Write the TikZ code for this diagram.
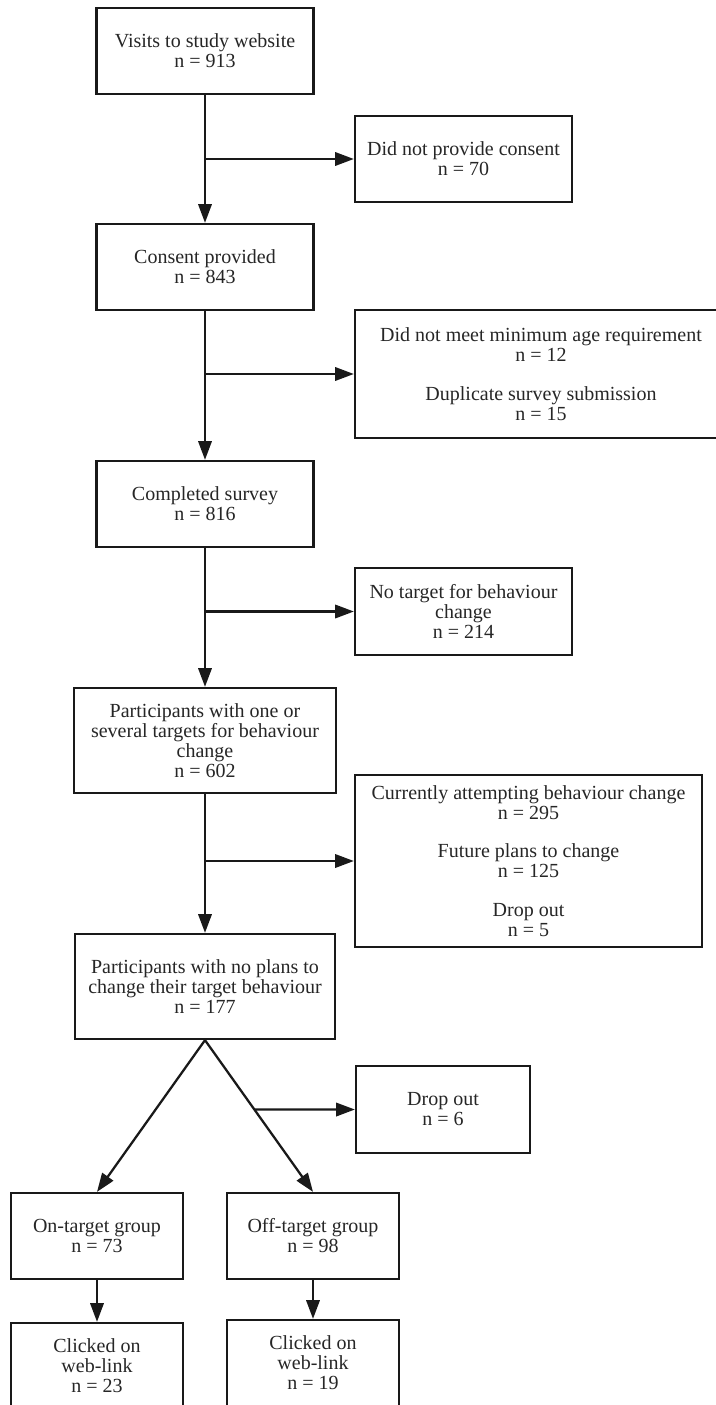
\documentclass[tikz,border=0pt]{standalone}
\usepackage{fontspec}
\setmainfont{Liberation Serif}
\usetikzlibrary{arrows.meta,calc}
\begin{document}
\begin{tikzpicture}[x=0.75pt,y=-0.75pt,
  box/.style={draw=black!90, line width=1.7pt, align=center, inner sep=0pt,
    font=\fontsize{15}{15}\selectfont, text=black!85},
  wh/.style 2 args={minimum width=#1*0.75pt, minimum height=#2*0.75pt},
  arr/.style={draw=black!90, line width=1.7pt, -{Triangle[length=14pt,width=10pt]}}]
\useasboundingbox (0,0) rectangle (715,1405);
% main column
\node[box, wh={217}{86}] (b1) at (205,51) {Visits to study website\\n = 913};
\node[box, wh={217}{86}] (b2) at (205,267) {Consent provided\\n = 843};
\node[box, wh={217}{86}] (b3) at (205,504) {Completed survey\\n = 816};
\node[box, wh={262}{105}] (b4) at (205,740.5) {Participants with one or\\several targets for behaviour\\change\\n = 602};
\node[box, wh={260}{105}] (b5) at (205,986.5) {Participants with no plans to\\change their target behaviour\\n = 177};
% side boxes
\node[box, wh={217}{86}] (s1) at (463.5,159) {Did not provide consent\\n = 70};
\node[box, wh={372}{128}] (s2) at (541,374) {Did not meet minimum age requirement\\n = 12\\[14pt]Duplicate survey submission\\n = 15};
\node[box, wh={217}{87}] (s3) at (463.5,611.5) {No target for behaviour\\change\\n = 214};
\node[box, wh={347}{172}] (s4) at (528.5,861) {Currently attempting behaviour change\\n = 295\\[14pt]Future plans to change\\n = 125\\[14pt]Drop out\\n = 5};
\node[box, wh={174}{87}] (s5) at (443,1109.5) {Drop out\\n = 6};
% groups
\node[box, wh={172}{86}] (b6) at (97,1236) {On-target group\\n = 73};
\node[box, wh={172}{86}] (b7) at (313,1236) {Off-target group\\n = 98};
\node[box, wh={172}{86}] (b8) at (97,1366) {Clicked on\\web-link\\n = 23};
\node[box, wh={172}{86}] (b9) at (313,1363) {Clicked on\\web-link\\n = 19};
% connectors
\draw[arr] (b1.south) -- (b2.north);
\draw[arr] (b1.south |- s1.west) -- (s1.west);
\draw[arr] (b2.south) -- (b3.north);
\draw[arr] (b2.south |- s2.west) -- (s2.west);
\draw[arr] (b3.south) -- (b4.north);
\draw[arr] (b3.south |- s3.west) -- (s3.west);
\draw[arr] (b4.south) -- (b5.north);
\draw[arr] (b4.south |- s4.west) -- (s4.west);
\draw[arr] (b5.south) -- (b6.north);
\draw[arr] (b5.south) -- (b7.north);
\coordinate (dh) at (b5.south |- s5.west);
\coordinate (dj) at (intersection of b5.south--b7.north and s5.west--dh);
\draw[arr] (dj) -- (s5.west);
\draw[arr] (b6.south) -- (b8.north);
\draw[arr] (b7.south) -- (b9.north);
\end{tikzpicture}
\end{document}
